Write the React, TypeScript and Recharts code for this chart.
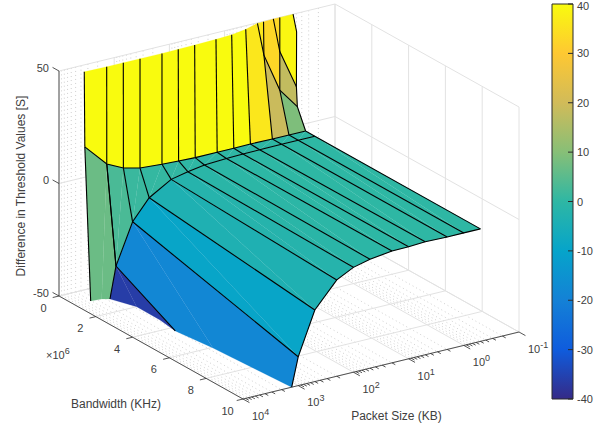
import { Area, AreaChart, ReferenceArea, Scatter, ScatterChart, XAxis, YAxis } from 'recharts';

const FONT = '"Liberation Sans", Arial, sans-serif';
const INK = '#404040';
const AXIS = '#2b2b2b';
const GRID = '#e2e2e2';
const MINOR = '#c4c4c4';

// surface grid
const packetSizes = [5000, 2000, 1000, 500, 200, 100, 50, 20, 10, 5, 2, 1, 0.5];
const diffAtHalfMhz = [16.8, 6.8, 3.2, 1.4, 0.7, 0.4, 0.1, 0.1, 0.1, 0.2, 0, 0, 0];
const diffAtOneMhz = [-88, -36.3, -18.4, -9.5, -3.7, -2.1, -0.9, -0.4, -0.2, -0.1, 0, 0, 0];
const diffAtTenMhz = [-120, -70, -37.2, -18.2, -7.2, -3.4, -1.6, -0.3, -0.2, 0.2, 0, 0, 0];
const rowBandwidths = [0.5e6, 1e6, 10e6];

// where the steep wall is cut by the top of the box (z = 50)
const wallTopBandwidth = [0.47e6, 0.495e6, 0.495e6, 0.5e6, 0.5e6, 0.48e6, 0.47e6, 0.435e6, 0.386e6, 0.245e6];
const wallLevel = 40;

// where the surface is cut by the floor (z = -50)
const floorPacket = [5158, 3373, 2652, 1820, 1845, 2089, 1690, 1312];
const floorBandwidth = [0.859e6, 0.905e6, 1.041e6, 2e6, 3.285e6, 4.28e6, 6.05e6, 10e6];

// folded corner of the wall at small packets
const foldPacket = [2.6, 2, 1.31, 1, 0.575, 0.5, 0.5, 0.5, 2, 1, 1];
const foldBandwidth = [0.03e6, 0.02e6, 0, 0, 0, 0.01e6, 0, 0.05e6, 0.04e6, 0, 0];
const foldDiff = [50, 50, 50, 50, 50, 41.9, 17.4, 8.8, 35.2, 34.8, 17.7];

const packetDecades = [1e4, 1e3, 1e2, 1e1, 1, 0.1];
const packetMinorSteps = [2, 3, 4, 5, 6, 7, 8, 9];
const bandwidthTicks = [0, 2e6, 4e6, 6e6, 8e6, 10e6];
const diffTicks = [-50, 0, 50];
const colorbarTicks = [-40, -30, -20, -10, 0, 10, 20, 30, 40];
const parula = ['#352a87', '#0f5cdd', '#1481d6', '#06a4ca', '#2eb7a4', '#87bf77', '#d1bb59', '#fec832', '#f9fb0e'];

type Pt = { x: number; y: number };

// fixed camera of the 3d view, orthographic
const project = (packet: number, bandwidth: number, diff: number): Pt => {
  const t = (4 - Math.log10(packet)) / 5;
  const v = bandwidth / 1e7;
  return {
    x: 59 + 276 * t + 184 * v,
    y: 296 - 67 * t + 103 * v - (diff + 50) * 2.25,
  };
};

const levelColor = (level: number) => {
  const pos = Math.max(0, Math.min(7.999, (level + 40) / 10));
  const i = Math.floor(pos);
  const mix = pos - i;
  const rgb = [1, 3, 5].map((k) => {
    const a = parseInt(parula[i].slice(k, k + 2), 16);
    const b = parseInt(parula[i + 1].slice(k, k + 2), 16);
    return Math.round(a + (b - a) * mix);
  });
  return `rgb(${rgb.join(',')})`;
};

const top = wallTopBandwidth.map((b, i) => project(packetSizes[i], b, 50));
const half = packetSizes.map((p, i) => project(p, rowBandwidths[0], diffAtHalfMhz[i]));
const one = packetSizes.map((p, i) => project(p, rowBandwidths[1], diffAtOneMhz[i]));
const ten = packetSizes.map((p, i) => project(p, rowBandwidths[2], diffAtTenMhz[i]));
const floor = floorPacket.map((p, i) => project(p, floorBandwidth[i], -50));
const [fa, fb, fc, fd, fe, ff, fg, fh, fl, fm, fn] = foldPacket.map((p, i) =>
  project(p, foldBandwidth[i], foldDiff[i])
);

type Face = { pts: Pt[]; level: number };
const faces: Face[] = [];

for (let i = 0; i < 9; i++) {
  faces.push({ pts: [top[i], top[i + 1], half[i + 1], half[i]], level: wallLevel });
}
faces.push({ pts: [top[9], fa, fl, half[10], half[9]], level: 36 });
faces.push({ pts: [fa, fb, fl], level: 36 });
faces.push({ pts: [fb, fc, fm, fn, fl], level: 33 });
faces.push({ pts: [fc, fd, fm], level: 33 });
faces.push({ pts: [fd, fe, ff, fg, fm], level: 39 });
faces.push({ pts: [fm, fg, fh, fn], level: 18 });
faces.push({ pts: [fl, fn, half[11], half[10]], level: 19 });
faces.push({ pts: [fn, fh, half[12], half[11]], level: 9 });

// left edge, runs into the floor
faces.push({ pts: [half[0], half[1], floor[1], floor[0]], level: diffAtHalfMhz[1] });
faces.push({ pts: [half[1], one[1], floor[2], floor[1]], level: diffAtHalfMhz[1] });
faces.push({ pts: [one[1], floor[2], floor[3]], level: diffAtOneMhz[1] });
faces.push({ pts: [one[1], floor[3], floor[4], floor[5]], level: diffAtOneMhz[1] });
faces.push({ pts: [one[1], floor[5], floor[6], one[2]], level: diffAtOneMhz[2] });
faces.push({ pts: [one[2], floor[6], floor[7], ten[2]], level: diffAtOneMhz[2] });

for (let i = 1; i < 12; i++) {
  const level = diffAtHalfMhz[i + 1];
  faces.push({ pts: [half[i], half[i + 1], one[i]], level });
  faces.push({ pts: [half[i + 1], one[i + 1], one[i]], level });
}
for (let i = 2; i < 12; i++) {
  const level = diffAtOneMhz[i + 1];
  faces.push({ pts: [one[i], one[i + 1], ten[i]], level });
  faces.push({ pts: [one[i + 1], ten[i + 1], ten[i]], level });
}

// black mesh lines, the cut edges on floor and top stay without a line
const meshLines: Pt[][] = [
  half,
  one.slice(1),
  [floor[7], ...ten.slice(2)],
  [half[0], floor[0]],
  [half[1], one[1], floor[5]],
  [one[1], floor[2]],
  ...top.map((p, i) => [p, half[i]]),
  ...packetSizes.slice(2).map((_, k) => [one[k + 2], ten[k + 2]]),
  ...packetSizes.slice(1).map((_, k) => [half[k + 1], one[k + 1]]),
  [fa, fl, half[10]],
  [fb, fl, fn, fh],
  [fc, fm, fg],
  [fd, fm, fn, half[11]],
  [fe, ff, fg, fh, half[12]],
];

const minorPackets = packetDecades.slice(1).flatMap((d) => packetMinorSteps.map((m) => d * m));
const pBack = 0.1;
const pFront = 1e4;
const bFar = 0;
const bNear = 10e6;

const gridLines: Pt[][] = [
  ...packetDecades.map((p) => [project(p, bFar, -50), project(p, bFar, 50)]),
  ...packetDecades.map((p) => [project(p, bFar, -50), project(p, bNear, -50)]),
  ...bandwidthTicks.map((b) => [project(pBack, b, -50), project(pBack, b, 50)]),
  ...bandwidthTicks.map((b) => [project(pFront, b, -50), project(pBack, b, -50)]),
  ...diffTicks.map((d) => [project(pFront, bFar, d), project(pBack, bFar, d)]),
  ...diffTicks.map((d) => [project(pBack, bFar, d), project(pBack, bNear, d)]),
];
const minorLines: Pt[][] = [
  ...minorPackets.map((p) => [project(p, bFar, -50), project(p, bFar, 50)]),
  ...minorPackets.map((p) => [project(p, bFar, -50), project(p, bNear, -50)]),
];

const axisLines: Pt[][] = [
  [project(pFront, bFar, 50), project(pFront, bFar, -50), project(pFront, bNear, -50), project(pBack, bNear, -50)],
  ...diffTicks.map((d) => [project(pFront, bFar, d), project(pFront, -0.35e6, d)]),
  ...bandwidthTicks.map((b) => [project(pFront, b, -50), project(13000, b, -50)]),
  ...packetDecades.map((p) => [project(p, bNear, -50), project(p, 10.35e6, -50)]),
  ...minorPackets.map((p) => [project(p, bNear, -50), project(p, 10.18e6, -50)]),
];

type Label = Pt & { text: string; sup?: string; anchor?: string; rotate?: number; size?: number };

const shift = (p: Pt, dx: number, dy: number) => ({ x: p.x + dx, y: p.y + dy });

const labels: Label[] = [
  ...diffTicks.map((d) => ({ ...shift(project(pFront, bFar, d), -10, -3.5), text: String(d), anchor: 'end' })),
  ...bandwidthTicks.map((b) => ({ ...shift(project(pFront, b, -50), -15.5, 11.5), text: String(b / 1e6) })),
  ...packetDecades.map((p) => ({
    ...shift(project(p, bNear, -50), 9, 16.8),
    text: '10',
    sup: String(Math.round(Math.log10(p))),
    anchor: 'start',
  })),
  { x: 46, y: 355, text: '\u00d710', sup: '6', anchor: 'start' },
  { x: 116, y: 404, text: 'Bandwidth (KHz)', size: 12 },
  { x: 396.5, y: 416, text: 'Packet Size (KB)', size: 12 },
  { x: 21, y: 186, text: 'Difference in Threshold Values [S]', size: 12, rotate: -90 },
];

const noDot = () => null;

const renderLabel = (label: Label) => (props: any) => {
  const { cx, cy } = props;
  return (
    <text
      x={cx}
      y={cy}
      textAnchor={label.anchor ?? 'middle'}
      dominantBaseline="central"
      fontFamily={FONT}
      fontSize={label.size ?? 11}
      fill={INK}
      transform={label.rotate ? `rotate(${label.rotate} ${cx} ${cy})` : undefined}
    >
      {label.text}
      {label.sup && (
        <tspan dy={-4} fontSize={9}>
          {label.sup}
        </tspan>
      )}
    </text>
  );
};

// hairline in the face colour keeps the seams between triangles faint
const renderFace = (fill: string) => (props: any) => (
  <polygon points={props.points.map((p: Pt) => `${p.x},${p.y}`).join(' ')} fill={fill} stroke={fill} strokeWidth={0.2} />
);

const ColorbarTick = (props: any) => {
  const { y, payload } = props;
  return (
    <g>
      <line x1={28} x2={33} y1={y} y2={y} stroke={AXIS} strokeWidth={1} />
      {/* top label sits a little lower so it stays inside the page */}
      <text x={37} y={Math.max(y, 6.4)} dominantBaseline="central" fontFamily={FONT} fontSize={11} fill={INK}>
        {payload.value}
      </text>
    </g>
  );
};

const colorbarData = [
  { pos: 0, range: [-40, 40] },
  { pos: 1, range: [-40, 40] },
];

export default function App() {
  return (
    <div style={{ position: 'absolute', left: 0, top: 0, width: 606, height: 430, background: '#fff' }}>
      <div style={{ position: 'absolute', left: 0, top: 0 }}>
        <ScatterChart width={606} height={430} margin={{ top: 0, right: 0, bottom: 0, left: 0 }}>
          <XAxis type="number" dataKey="x" domain={[0, 606]} hide />
          <YAxis type="number" dataKey="y" domain={[0, 430]} reversed hide />
          {minorLines.map((pts, i) => (
            <Scatter
              key={`minor-${i}`}
              data={pts}
              shape={noDot}
              line={{ stroke: MINOR, strokeWidth: 0.8, strokeDasharray: '1 3' }}
              isAnimationActive={false}
            />
          ))}
          {gridLines.map((pts, i) => (
            <Scatter
              key={`grid-${i}`}
              data={pts}
              shape={noDot}
              line={{ stroke: GRID, strokeWidth: 1 }}
              isAnimationActive={false}
            />
          ))}
          {axisLines.map((pts, i) => (
            <Scatter
              key={`axis-${i}`}
              data={pts}
              shape={noDot}
              line={{ stroke: AXIS, strokeWidth: 0.8 }}
              isAnimationActive={false}
            />
          ))}
          {faces.map((face, i) => (
            <Scatter
              key={`face-${i}`}
              data={face.pts}
              shape={noDot}
              line={renderFace(levelColor(face.level)) as any}
              isAnimationActive={false}
            />
          ))}
          {meshLines.map((pts, i) => (
            <Scatter
              key={`mesh-${i}`}
              data={pts}
              shape={noDot}
              line={{ stroke: '#000', strokeWidth: 1.1 }}
              isAnimationActive={false}
            />
          ))}
          {labels.map((label, i) => (
            <Scatter key={`label-${i}`} data={[label]} shape={renderLabel(label)} isAnimationActive={false} />
          ))}
        </ScatterChart>
      </div>
      <div style={{ position: 'absolute', left: 540, top: 0 }}>
        <AreaChart width={66} height={410} data={colorbarData} margin={{ top: 4, right: 0, bottom: 11, left: 12 }}>
          <defs>
            <linearGradient id="parulaBar" x1="0" y1="1" x2="0" y2="0">
              {parula.map((c, i) => (
                <stop key={c} offset={i / 8} stopColor={c} />
              ))}
            </linearGradient>
          </defs>
          <XAxis type="number" dataKey="pos" domain={[0, 1]} hide />
          <YAxis
            orientation="right"
            domain={[-40, 40]}
            ticks={colorbarTicks}
            width={33}
            axisLine={false}
            tickLine={false}
            interval={0}
            tick={<ColorbarTick />}
          />
          <Area dataKey="range" fill="url(#parulaBar)" fillOpacity={1} stroke="none" dot={false} isAnimationActive={false} />
          <ReferenceArea x1={0} x2={1} y1={-40} y2={40} fill="none" stroke={AXIS} strokeWidth={1} />
        </AreaChart>
      </div>
    </div>
  );
}
